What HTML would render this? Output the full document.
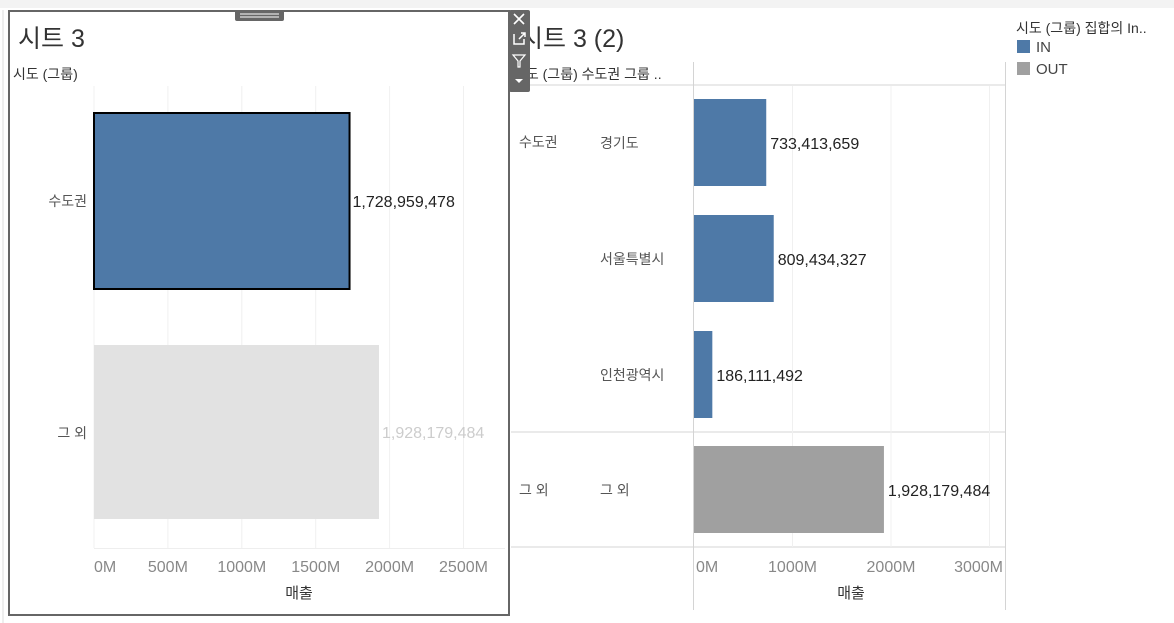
<!DOCTYPE html>
<html><head><meta charset="utf-8"><style>
body{margin:0;width:1174px;height:623px;background:#fff;overflow:hidden;font-family:"Liberation Sans","Noto Sans CJK KR",sans-serif;}
svg{display:block}
text{font-family:"Liberation Sans","Noto Sans CJK KR",sans-serif;}
</style></head><body>
<svg id="c" width="1174" height="623">
<rect x="0" y="0" width="1174" height="8" fill="#f3f3f3"/>
<line x1="3" y1="10" x2="3" y2="623" stroke="#ddd"/>
<g id="right">
<text x="520" y="47" font-size="25" fill="#333">시트 3 (2)</text>
<text x="513" y="79" font-size="14" fill="#333">시도 (그룹) 수도권 그룹 ..</text>
<line x1="511" y1="85" x2="1005" y2="85" stroke="#d4d4d4"/>
<line x1="511" y1="432" x2="1005" y2="432" stroke="#d4d4d4"/>
<line x1="511" y1="547" x2="1005" y2="547" stroke="#d4d4d4"/>
<line x1="693.5" y1="62" x2="693.5" y2="610" stroke="#d4d4d4"/>
<line x1="1005.5" y1="62" x2="1005.5" y2="610" stroke="#d4d4d4"/>
<text x="519" y="147" font-size="14" fill="#555">수도권</text>
<text x="519" y="495" font-size="14" fill="#555">그 외</text>
<text x="851" y="598" font-size="15" fill="#333" text-anchor="middle">매출</text>
</g>
<g>
<text x="1016" y="33" font-size="14" fill="#333">시도 (그룹) 집합의 In..</text>
<rect x="1017" y="40" width="13" height="13" fill="#4e79a7"/>
<text x="1036" y="52" font-size="15" fill="#444">IN</text>
<rect x="1017" y="62" width="13" height="13" fill="#a0a0a0"/>
<text x="1036" y="74" font-size="15" fill="#444">OUT</text>
</g>
<g id="left">
<rect x="9" y="11" width="500" height="604" fill="#fff" stroke="#666" stroke-width="2"/>
<rect x="235" y="10" width="49" height="11" rx="2" fill="#666"/>
<line x1="240" y1="14" x2="279" y2="14" stroke="#fff"/><line x1="240" y1="17" x2="279" y2="17" stroke="#fff"/>
<text x="18" y="47" font-size="25" fill="#333">시트 3</text>
<text x="13" y="79" font-size="14" fill="#333">시도 (그룹)</text>
<text x="87" y="206" font-size="14" fill="#555" text-anchor="end">수도권</text>
<text x="87" y="438" font-size="14" fill="#555" text-anchor="end">그 외</text>
<line x1="94" y1="548.5" x2="505" y2="548.5" stroke="#eee"/>
<text x="299" y="598" font-size="15" fill="#333" text-anchor="middle">매출</text>
</g>
<g>
<rect x="509" y="10" width="21" height="82" rx="2" fill="#666"/>
<path d="M514 14 L524 24 M524 14 L514 24" stroke="#fff" stroke-width="1.6"/>
<path d="M514 34 v10 h10 v-5 M519 39 l6 -6 M521 33 h4 v4" stroke="#fff" stroke-width="1.5" fill="none"/>
<path d="M513 55 h12 l-5 6 v6 h-2 v-6 z" stroke="#fff" stroke-width="1.2" fill="none"/>
<path d="M515 79 h8 l-4 4 z" fill="#fff"/>
</g>
</svg>
<script>
const NS='http://www.w3.org/2000/svg';
const svg=document.getElementById('c');
const leftCats=['수도권','그 외'];
const leftVals=[1728959478,1928179484];
const leftTicks=[0,500,1000,1500,2000,2500];
const rightCats=['경기도','서울특별시','인천광역시','그 외'];
const rightVals=[733413659,809434327,186111492,1928179484];
const rightGroups=['IN','IN','IN','OUT'];
const rightTicks=[0,1000,2000,3000];
function mk(tag,attrs,parent){const e=document.createElementNS(NS,tag);for(const k in attrs)e.setAttribute(k,attrs[k]);(parent||svg).appendChild(e);return e;}
const fmt=v=>v.toLocaleString('en-US');
const lx=v=>94+v/1e6*0.1478;
const lg=document.getElementById('left');
leftTicks.forEach(t=>{
  const l=mk('line',{x1:lx(t*1e6),x2:lx(t*1e6),y1:86,y2:548,stroke:'#f0f0f0'},lg);
  
  
  const tx=mk('text',{x:t===0?lx(0):lx(t*1e6),y:572,'font-size':16,fill:'#888','text-anchor':t===0?'start':'middle'},lg);
  tx.textContent=t+'M';
  
  
});
const lBand=[[113,289],[345,519]];
leftVals.forEach((v,i)=>{
  const sel=i===0;
  const r=mk('rect',{x:lx(0),y:lBand[i][0],width:lx(v)-lx(0),height:lBand[i][1]-lBand[i][0],fill:sel?'#4e79a7':'#e2e2e2',stroke:sel?'#000':'none','stroke-width':2},lg);
  
  
  const t=mk('text',{x:lx(v)+3,y:(lBand[i][0]+lBand[i][1])/2+6,'font-size':16,fill:sel?'#222':'#ccc'},lg);
  t.textContent=fmt(v);
  
  
});
const rx=v=>694+v/1e6*0.0985;
const rg=document.getElementById('right');
rightTicks.forEach((t,i)=>{
  if(t>0){const l=mk('line',{x1:rx(t*1e6),x2:rx(t*1e6),y1:86,y2:547,stroke:'#f0f0f0'},rg);
  
  }
  const last=i===rightTicks.length-1;
  const tx=mk('text',{x:t===0?696:(last?1003:rx(t*1e6)),y:572,'font-size':16,fill:'#888','text-anchor':t===0?'start':(last?'end':'middle')},rg);
  tx.textContent=t+'M';
  
  
});
const rTop=[99,215,331,446];
rightVals.forEach((v,i)=>{
  const r=mk('rect',{x:rx(0),y:rTop[i],width:rx(v)-rx(0),height:87,fill:rightGroups[i]==='IN'?'#4e79a7':'#a0a0a0'},rg);
  
  
  const t=mk('text',{x:rx(v)+4,y:rTop[i]+50,'font-size':16,fill:'#222'},rg);
  t.textContent=fmt(v);
  
  
  const c=mk('text',{x:600,y:rTop[i]+49,'font-size':14,fill:'#555'},rg);
  c.textContent=rightCats[i];
  
  
});
</script>
</body></html>
